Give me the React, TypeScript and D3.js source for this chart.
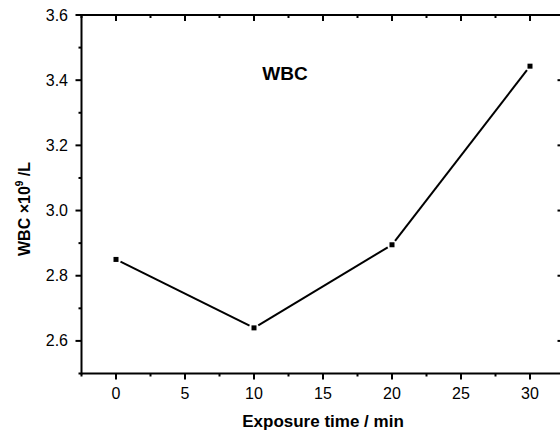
import React from "react";
import * as d3 from "d3";

const times = [0, 10, 20, 30];
const wbc = [2.85, 2.64, 2.895, 3.443];
const xMajorTicks = [0, 5, 10, 15, 20, 25, 30];
const xMinorTicks = [-2.5, 2.5, 7.5, 12.5, 17.5, 22.5, 27.5, 32.5];
const yMajorTicks = [2.6, 2.8, 3.0, 3.2, 3.4, 3.6];
const yMinorTicks = [2.5, 2.7, 2.9, 3.1, 3.3, 3.5];
const title = "WBC";
const xLabel = "Exposure time / min";

const W = 560;
const H = 434;
const FONT = "'Liberation Sans', Arial, Helvetica, sans-serif";

export default function App() {
  const x = d3.scaleLinear().domain([-2.5, 32.5]).range([81.5, 564.5]);
  const y = d3.scaleLinear().domain([2.5, 3.6]).range([373.5, 15]);
  const [x0, x1] = x.range();
  const [yb, yt] = y.range();

  const pts = times.map((t, i) => [x(t), y(wbc[i])] as [number, number]);
  const gap = 5;
  const segs = pts.slice(1).map((p, i) => {
    const a = pts[i];
    const dx = p[0] - a[0];
    const dy = p[1] - a[1];
    const len = Math.hypot(dx, dy);
    const ux = dx / len;
    const uy = dy / len;
    return [
      [a[0] + ux * gap, a[1] + uy * gap],
      [p[0] - ux * gap, p[1] - uy * gap],
    ] as [number, number][];
  });
  const line = d3.line();

  return (
    <svg
      width={W}
      height={H}
      style={{ position: "absolute", left: 0, top: 0, background: "#fff" }}
      fontFamily={FONT}
    >
      <rect x={0} y={0} width={W} height={H} fill="#fff" />
      {/* frame */}
      <g stroke="#000" strokeWidth={2} fill="none">
        <line x1={x0} x2={x1} y1={yb} y2={yb} />
        <line x1={x0} x2={x1} y1={yt} y2={yt} />
        <line x1={x0} x2={x0} y1={yt - 1} y2={yb + 1} />
        <line x1={x1} x2={x1} y1={yt - 1} y2={yb + 1} />
      </g>
      {/* ticks */}
      <g stroke="#000" strokeWidth={2}>
        {xMajorTicks.map((t) => (
          <g key={"xm" + t}>
            <line x1={x(t)} x2={x(t)} y1={yb} y2={yb + 6} />
            <line x1={x(t)} x2={x(t)} y1={yt} y2={yt + 6} />
          </g>
        ))}
        {xMinorTicks.map((t) => (
          <g key={"xn" + t}>
            <line x1={x(t)} x2={x(t)} y1={yb} y2={yb + 3} />
            <line x1={x(t)} x2={x(t)} y1={yt} y2={yt + 3} />
          </g>
        ))}
        {yMajorTicks.map((t) => (
          <g key={"ym" + t}>
            <line x1={x0 - 6} x2={x0} y1={y(t)} y2={y(t)} />
            <line x1={x1 - 7} x2={x1} y1={y(t)} y2={y(t)} />
          </g>
        ))}
        {yMinorTicks.map((t) => (
          <g key={"yn" + t}>
            <line x1={x0 - 3} x2={x0} y1={y(t)} y2={y(t)} />
            <line x1={x1 - 3} x2={x1} y1={y(t)} y2={y(t)} />
          </g>
        ))}
      </g>
      {/* tick labels */}
      <g fontSize={16} fill="#000">
        {xMajorTicks.map((t) => (
          <text key={"xl" + t} x={x(t)} y={399} textAnchor="middle">
            {d3.format("d")(t)}
          </text>
        ))}
        {yMajorTicks.map((t) => (
          <text
            key={"yl" + t}
            x={68}
            y={y(t)}
            textAnchor="end"
            dominantBaseline="central"
          >
            {d3.format(".1f")(t)}
          </text>
        ))}
      </g>
      {/* data line */}
      <g stroke="#000" strokeWidth={2} fill="none">
        {segs.map((s, i) => (
          <path key={"s" + i} d={line(s) || ""} />
        ))}
      </g>
      <g fill="#000">
        {pts.map((p, i) => (
          <rect key={"p" + i} x={p[0] - 2.5} y={p[1] - 2.5} width={5} height={5} />
        ))}
      </g>
      {/* title */}
      <text x={285} y={80} textAnchor="middle" fontSize={19} fontWeight="bold">
        {title}
      </text>
      {/* x label */}
      <text x={(x0 + x1) / 2} y={427} textAnchor="middle" fontSize={17} fontWeight="bold">
        {xLabel}
      </text>
      {/* y label */}
      <text
        transform={`translate(30, 209) rotate(-90)`}
        textAnchor="middle"
        fontSize={16}
        fontWeight="bold"
      >
        WBC ×10
        <tspan fontSize={10} dy={-7}>9</tspan>
        <tspan dy={7}> /L</tspan>
      </text>
    </svg>
  );
}
